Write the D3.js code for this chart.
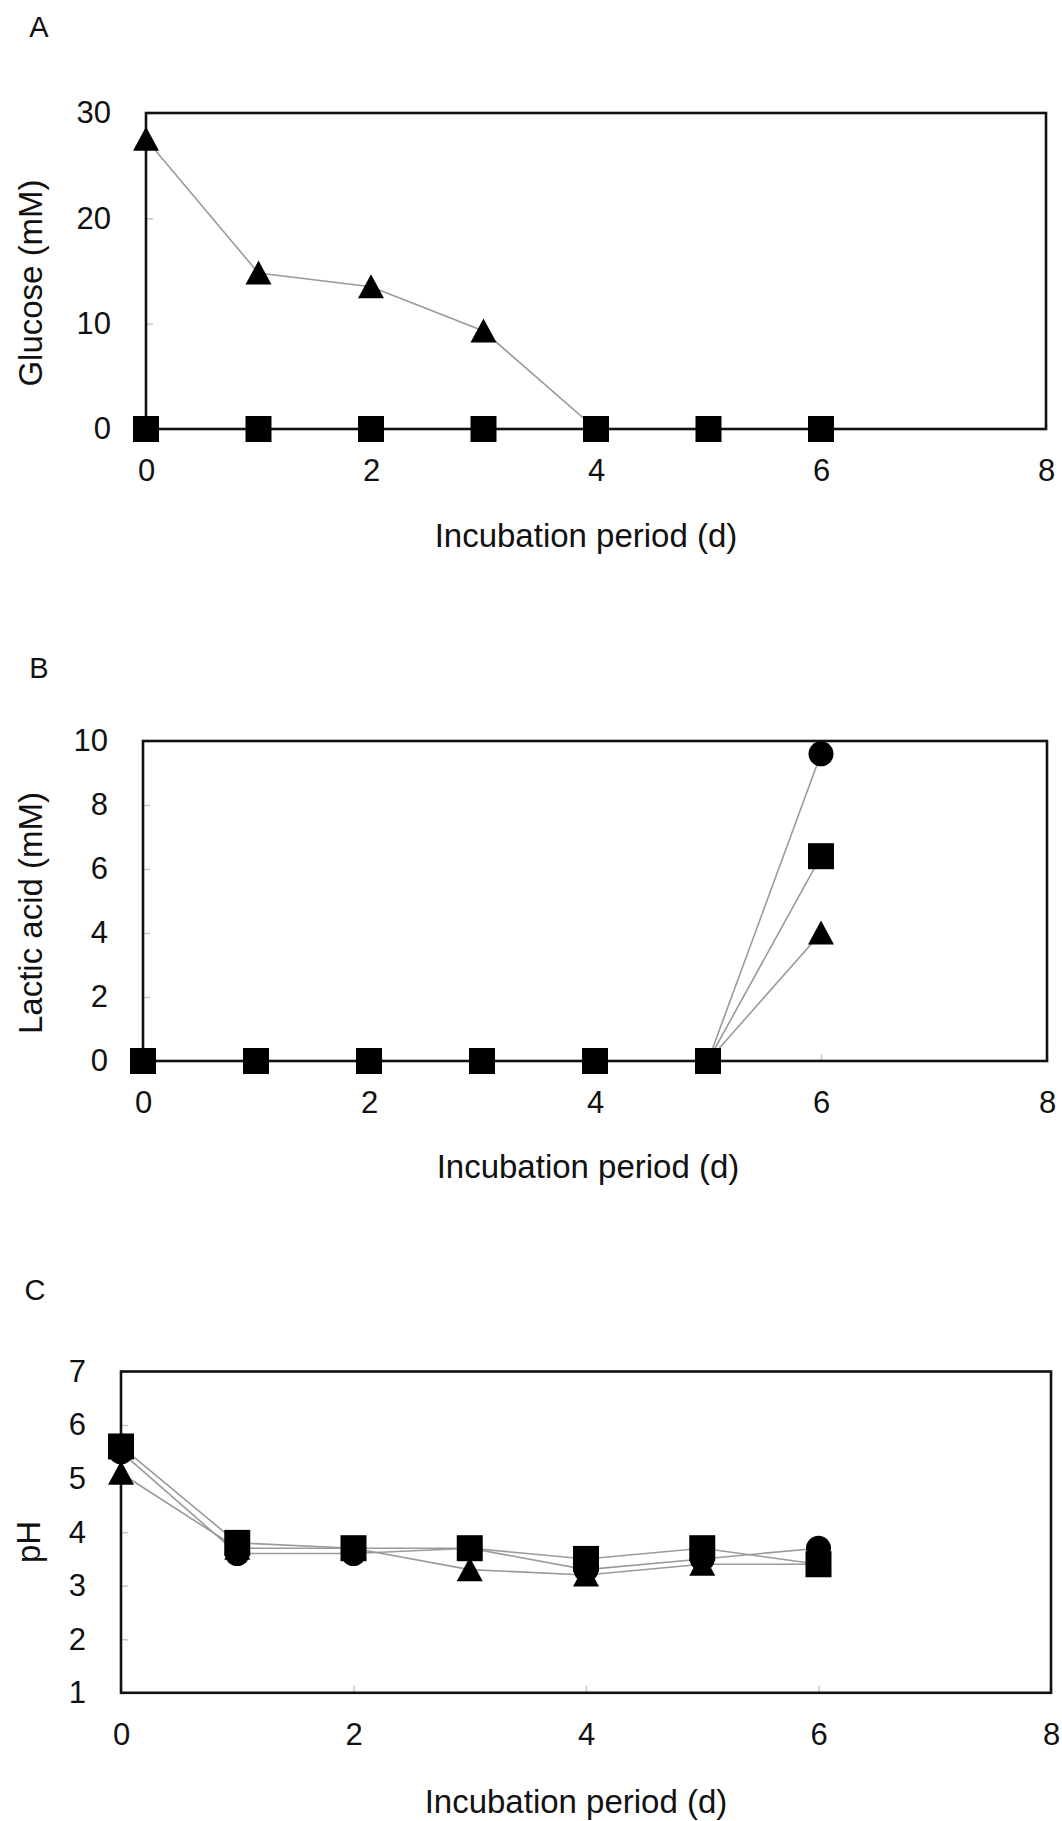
<!DOCTYPE html>
<html>
<head>
<meta charset="utf-8">
<script src="https://cdn.jsdelivr.net/npm/d3@7"></script>
<style>
  html, body { margin: 0; padding: 0; background: #fff; }
  text { font-family: "Liberation Sans", Arial, sans-serif; fill: #111; }
</style>
</head>
<body>
<svg id="chart" width="1062" height="1821"></svg>
<script>
// ---- data ----
const days = [0, 1, 2, 3, 4, 5, 6];
const xTicks = [0, 2, 4, 6, 8];

// Panel A: glucose (mM)
const glucoseTicks = [0, 10, 20, 30];
const glucoseCircle   = [0, 0, 0, 0, 0, 0, 0];
const glucoseTriangle = [27.5, 14.8, 13.5, 9.3, 0, 0, 0];
const glucoseSquare   = [0, 0, 0, 0, 0, 0, 0];

// Panel B: lactic acid (mM)
const lacticTicks = [0, 2, 4, 6, 8, 10];
const lacticCircle   = [0, 0, 0, 0, 0, 0, 9.6];
const lacticTriangle = [0, 0, 0, 0, 0, 0, 4.0];
const lacticSquare   = [0, 0, 0, 0, 0, 0, 6.4];

// Panel C: pH
const phTicks = [1, 2, 3, 4, 5, 6, 7];
const phCircle   = [5.5, 3.6, 3.6, 3.7, 3.3, 3.5, 3.7];
const phTriangle = [5.1, 3.7, 3.7, 3.3, 3.2, 3.4, 3.4];
const phSquare   = [5.6, 3.8, 3.7, 3.7, 3.5, 3.7, 3.4];

// ---- drawing ----
const svg = d3.select("#chart");

const panels = [
  { letter: "A", ytitle: "Glucose (mM)", yDomain: [0, 30], yTicks: glucoseTicks,
    series: { circle: glucoseCircle, triangle: glucoseTriangle, square: glucoseSquare },
    left: 146, right: 1046, top: 113, bottom: 429,
    letterPos: [39, 27], ytitlePos: [30, 283], xtitlePos: [586, 535] },
  { letter: "B", ytitle: "Lactic acid (mM)", yDomain: [0, 10], yTicks: lacticTicks,
    series: { circle: lacticCircle, triangle: lacticTriangle, square: lacticSquare },
    left: 143, right: 1047, top: 741, bottom: 1061,
    letterPos: [39, 668], ytitlePos: [30, 913], xtitlePos: [588, 1166] },
  { letter: "C", ytitle: "pH", yDomain: [1, 7], yTicks: phTicks,
    series: { circle: phCircle, triangle: phTriangle, square: phSquare },
    left: 121, right: 1051, top: 1371.5, bottom: 1692.8,
    letterPos: [35, 1290], ytitlePos: [28, 1542], xtitlePos: [576, 1801] }
];

const shapes = {
  circle: d => `M0,-12.5A12.5,12.5 0 1,1 0,12.5A12.5,12.5 0 1,1 0,-12.5Z`,
  triangle: d => `M0,-12.5L13,11.5L-13,11.5Z`,
  square: d => `M-13,-13H13V13H-13Z`
};
const drawOrder = ["triangle", "circle", "square"];

panels.forEach(p => {
  const x = d3.scaleLinear().domain([0, 8]).range([p.left, p.right]);
  const y = d3.scaleLinear().domain(p.yDomain).range([p.bottom, p.top]);
  const g = svg.append("g");

  // y axis (inward ticks)
  const ya = g.append("g").attr("transform", `translate(${p.left},0)`)
    .call(d3.axisLeft(y).tickValues(p.yTicks).tickSize(-7).tickPadding(35).tickFormat(d3.format("d")));
  ya.select(".domain").remove();
  ya.selectAll(".tick line").attr("stroke", "#c8c8c8").attr("stroke-width", 1.5);
  ya.selectAll(".tick text").attr("font-size", 31).attr("fill", "#111")
    .attr("font-family", "Liberation Sans, Arial, sans-serif");

  // x axis (inward ticks)
  const xa = g.append("g").attr("transform", `translate(0,${p.bottom})`)
    .call(d3.axisBottom(x).tickValues(xTicks).tickSize(-7).tickPadding(30).tickFormat(d3.format("d")));
  xa.select(".domain").remove();
  xa.selectAll(".tick line").attr("stroke", "#c8c8c8").attr("stroke-width", 1.5);
  xa.selectAll(".tick text").attr("font-size", 31).attr("fill", "#111")
    .attr("font-family", "Liberation Sans, Arial, sans-serif");

  // series lines
  const line = d3.line().x((d, i) => x(days[i])).y(d => y(d));
  drawOrder.forEach(k => {
    g.append("path").attr("d", line(p.series[k]))
      .attr("fill", "none").attr("stroke", "#9a9a9a").attr("stroke-width", 1.6);
  });

  // frame (over the series lines)
  g.append("rect")
    .attr("x", x(0)).attr("y", y(p.yDomain[1]))
    .attr("width", x(8) - x(0)).attr("height", y(p.yDomain[0]) - y(p.yDomain[1]))
    .attr("fill", "none").attr("stroke", "#111").attr("stroke-width", 2.6);

  // markers
  drawOrder.forEach(k => {
    g.append("g").selectAll("path").data(p.series[k]).join("path")
      .attr("transform", (d, i) => `translate(${x(days[i])},${y(d)})`)
      .attr("d", shapes[k]).attr("fill", "#000");
  });

  // texts
  g.append("text").attr("x", p.letterPos[0]).attr("y", p.letterPos[1])
    .attr("text-anchor", "middle").attr("dominant-baseline", "central")
    .attr("font-size", 29).text(p.letter);
  g.append("text")
    .attr("transform", `translate(${p.ytitlePos[0]},${p.ytitlePos[1]}) rotate(-90)`)
    .attr("text-anchor", "middle").attr("dominant-baseline", "central")
    .attr("font-size", 33).text(p.ytitle);
  g.append("text").attr("x", p.xtitlePos[0]).attr("y", p.xtitlePos[1])
    .attr("text-anchor", "middle").attr("dominant-baseline", "central")
    .attr("font-size", 33).text("Incubation period (d)");
});
</script>
</body>
</html>
